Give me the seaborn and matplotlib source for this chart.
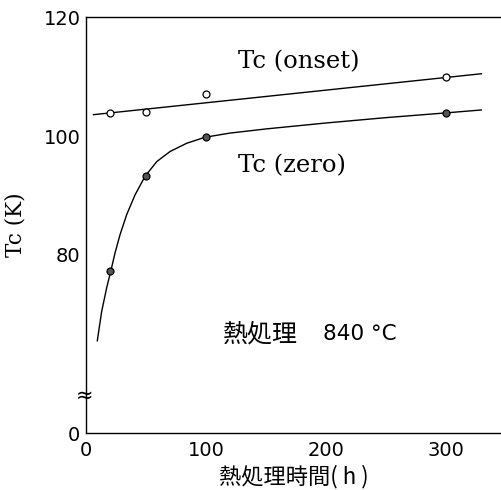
import matplotlib
matplotlib.use("Agg")
import matplotlib.pyplot as plt
import seaborn as sns

# data
onset_hours = [20, 50, 100, 300]
onset_tc = [103.9, 104.0, 107.1, 109.9]
zero_hours = [20, 50, 100, 300]
zero_tc = [77.2, 93.2, 99.9, 103.9]
onset_line_x = [6, 330]
onset_line_y = [103.6, 110.5]
zero_curve_x = [9.4, 13.1, 17.3, 20.6, 24.2, 28.4, 34.0, 40.9, 49.2, 59.0, 70.1,
                84.1, 99.3, 120, 150, 200, 250, 300, 330]
zero_curve_y = [65.5, 70.5, 74.5, 77.2, 80.3, 83.4, 86.8, 90.1, 93.2, 95.7, 97.4,
                98.8, 99.8, 100.5, 101.2, 102.2, 103.1, 103.9, 104.4]
x_ticks = [0, 100, 200, 300]
y_ticks = [50, 80, 100, 120]
y_tick_labels = ["0", "80", "100", "120"]

sns.set_style("white")
plt.rcParams['font.family'] = ['Noto Sans CJK JP', 'DejaVu Sans']
plt.rcParams['text.color'] = 'black'

fig = plt.figure(figsize=(5.02, 4.90), dpi=100)
ax = fig.add_axes([86/502, 1-433/490, 1-86/502, (433-17.3)/490])

lw = 1.0
sns.lineplot(x=onset_line_x, y=onset_line_y, ax=ax, color="black", linewidth=lw)
sns.lineplot(x=zero_curve_x, y=zero_curve_y, ax=ax, color="black", linewidth=lw)
ax.plot(onset_hours, onset_tc, linestyle="none", marker="o", markersize=5,
        markerfacecolor="white", markeredgecolor="black", markeredgewidth=0.9)
ax.plot(zero_hours, zero_tc, linestyle="none", marker="o", markersize=5,
        markerfacecolor="#555555", markeredgecolor="black", markeredgewidth=0.9)

ax.set_xlim(0, 347)
ax.set_ylim(50, 120)
ax.spines['right'].set_visible(False)
for s in ['left', 'bottom', 'top']:
    ax.spines[s].set_linewidth(1.0)
    ax.spines[s].set_color("black")

ax.set_xticks(x_ticks)
ax.set_yticks(y_ticks)
ax.set_yticklabels(y_tick_labels)
ax.tick_params(direction="in", length=4, width=0.9, colors="black",
               labelcolor="black", labelsize=14, top=False, right=False)
for lab in ax.get_xticklabels() + ax.get_yticklabels():
    lab.set_fontfamily(['DejaVu Sans'])
ax.tick_params(axis='y', pad=4)
ax.tick_params(axis='x', pad=6)

# axis break mark
ax.text(-1.5, 56.2, "≈", ha="center", va="center", fontsize=15, color="black",
        family=['DejaVu Sans'])

ax.text(127, 112.6, "Tc (onset)", family=['DejaVu Serif'], fontsize=17.5,
        ha="left", va="center", color="black")
ax.text(127, 95.0, "Tc (zero)", family=['DejaVu Serif'], fontsize=17.5,
        ha="left", va="center", color="black")
ax.text(114, 66.6, "熱処理", fontsize=18, ha="left", va="center", color="black",
        family=['Noto Sans CJK JP', 'DejaVu Sans'])
ax.text(198, 66.6, "840 °C", fontsize=15.5, ha="left", va="center", color="black",
        family=['DejaVu Sans'])

ax.set_xlabel("熱処理時間( h )", fontsize=16, color="black",
              family=['Noto Sans CJK JP', 'DejaVu Sans'])
ax.xaxis.set_label_coords(0.5, -0.077)
ax.set_ylabel("Tc (K)", fontsize=15.5, family=['DejaVu Serif'], color="black")
ax.yaxis.set_label_coords(-0.143, 0.5)

fig.savefig("out.png", dpi=100)
